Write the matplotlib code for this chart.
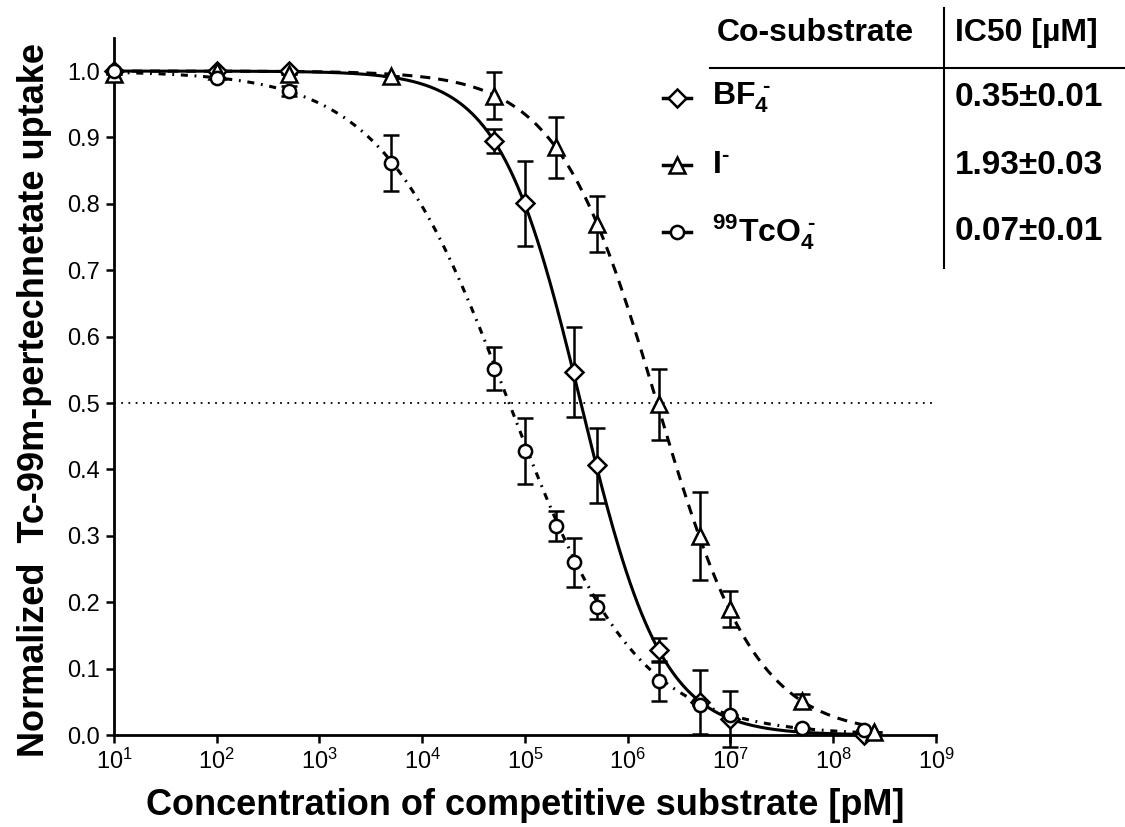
import matplotlib
matplotlib.use("Agg")
import matplotlib.pyplot as plt
import numpy as np
from matplotlib.lines import Line2D
from matplotlib.ticker import FixedLocator, FormatStrFormatter, NullLocator

plt.rcParams['font.family'] = ['Liberation Sans', 'DejaVu Sans']
plt.rcParams['mathtext.fontset'] = 'custom'
plt.rcParams['mathtext.rm'] = 'Liberation Sans'
plt.rcParams['mathtext.bf'] = 'Liberation Sans:bold'
plt.rcParams['mathtext.default'] = 'regular'

# --- data (concentration in pM, normalized uptake) ---
bf4_x = [1e1, 1e2, 5e2, 5e4, 1e5, 3e5, 5e5, 2e6, 5e6, 1e7, 2e8]
bf4_y = [1.0, 1.0, 1.0, 0.895, 0.801, 0.547, 0.406, 0.128, 0.05, 0.024, 0.0]
bf4_err = [0, 0, 0, 0.018, 0.064, 0.068, 0.057, 0.018, 0.048, 0.042, 0]

iod_x = [1e1, 1e2, 5e2, 5e3, 5e4, 2e5, 5e5, 2e6, 5e6, 1e7, 5e7, 2.5e8]
iod_y = [0.995, 1.0, 0.995, 0.993, 0.963, 0.885, 0.77, 0.498, 0.30, 0.19, 0.052, 0.005]
iod_err = [0, 0, 0, 0, 0.035, 0.046, 0.042, 0.054, 0.066, 0.027, 0.01, 0]

tc_x = [1e1, 1e2, 5e2, 5e3, 5e4, 1e5, 2e5, 3e5, 5e5, 2e6, 5e6, 1e7, 5e7, 2e8]
tc_y = [1.0, 0.99, 0.97, 0.862, 0.552, 0.428, 0.315, 0.26, 0.193, 0.082, 0.045, 0.03, 0.01, 0.007]
tc_err = [0, 0, 0.008, 0.042, 0.032, 0.05, 0.023, 0.037, 0.018, 0.03, 0, 0, 0, 0]

# fit parameters: IC50 from the table (uM), Hill slope
ic50_um = [0.35, 1.93, 0.07]
ic50_txt = ["0.35\u00b10.01", "1.93\u00b10.03", "0.07\u00b10.01"]
hill = [1.1, 0.9, 0.7]
labels = ["$\\mathbf{BF_4^{\\ \u2010}}$", "$\\mathbf{I^{\u2010}}$",
          "$\\mathbf{{}^{99}TcO_4^{\\ \u2010}}$"]


def logistic(x, ic50, h):
    return 1.0 / (1.0 + (x / ic50) ** h)


fig = plt.figure(figsize=(11.25, 8.27), dpi=100)
ax = fig.add_axes([0.1013, 0.1112, 0.7307, 0.843])

xs = np.logspace(1, np.log10(2.5e8), 400)
series = [
    (bf4_x, bf4_y, bf4_err, 'D', 9.5, '-'),
    (iod_x, iod_y, iod_err, '^', 11, (0, (3.3, 2.6))),
    (tc_x, tc_y, tc_err, 'o', 9.5, (0, (2.3, 2.2, 0.6, 2.2))),
]
handles = []
for i, (x, y, e, mk, ms, ls) in enumerate(series):
    ax.plot(xs, logistic(xs, ic50_um[i] * 1e6, hill[i]), color='black',
            lw=2.2, linestyle=ls, zorder=2)
    ax.errorbar(x, y, yerr=e, fmt='none', ecolor='black', elinewidth=1.8,
                capsize=5.5, capthick=1.8, zorder=3, clip_on=False)
    ax.plot(x, y, linestyle='none', marker=mk, ms=ms, mfc='white', mec='black',
            mew=1.8, zorder=4, clip_on=False)
    handles.append((mk, ms))

ax.axhline(0.5, color='black', lw=1.3, linestyle=(0, (1, 3)), zorder=1)

ax.set_xscale('log')
ax.set_xlim(1e1, 1e9)
ax.set_ylim(0, 1.05)
ax.xaxis.set_major_locator(FixedLocator([10.0 ** k for k in range(1, 10)]))
ax.xaxis.set_minor_locator(NullLocator())
ax.yaxis.set_major_locator(FixedLocator(np.arange(0, 1.01, 0.1)))
ax.yaxis.set_major_formatter(FormatStrFormatter('%.1f'))

for s in ['top', 'right']:
    ax.spines[s].set_visible(False)
for s in ['left', 'bottom']:
    ax.spines[s].set_linewidth(2)
ax.tick_params(axis='both', direction='out', length=6, width=1.8, labelsize=17, pad=4)

ax.set_xlabel("Concentration of competitive substrate [pM]", fontsize=26,
              fontweight='bold', labelpad=10)
ax.set_ylabel("Normalized  Tc-99m-pertechnetate uptake", fontsize=26,
              fontweight='bold')
ax.yaxis.set_label_coords(-0.075, 0.48)


# --- table / legend in the upper right ---
def fx(px):
    return px / 1125.0


def fy(py):
    return 1 - py / 827.0


fig.text(fx(815), fy(33), "Co-substrate", ha='center', va='center', fontsize=23, fontweight='bold')
fig.text(fx(1026), fy(33), "IC50 [\u00b5M]", ha='center', va='center', fontsize=23, fontweight='bold')
fig.add_artist(Line2D([fx(710), fx(1125)], [fy(68), fy(68)], color='black', lw=1.5))
fig.add_artist(Line2D([fx(944), fx(944)], [fy(8), fy(268)], color='black', lw=1.5))

row_y = [98, 165, 232]
for i, ry in enumerate(row_y):
    mk, ms = handles[i]
    fig.add_artist(Line2D([fx(663), fx(691)], [fy(ry), fy(ry)], color='black', lw=2.5))
    fig.add_artist(Line2D([fx(677)], [fy(ry)], marker=mk, ms=ms, mfc='white',
                          mec='black', mew=1.8, linestyle='none'))
    fig.text(fx(712), fy(ry), labels[i], ha='left', va='center', fontsize=23)
    fig.text(fx(955), fy(ry), ic50_txt[i], ha='left', va='center', fontsize=24, fontweight='bold')

fig.savefig("out.png", dpi=100)
